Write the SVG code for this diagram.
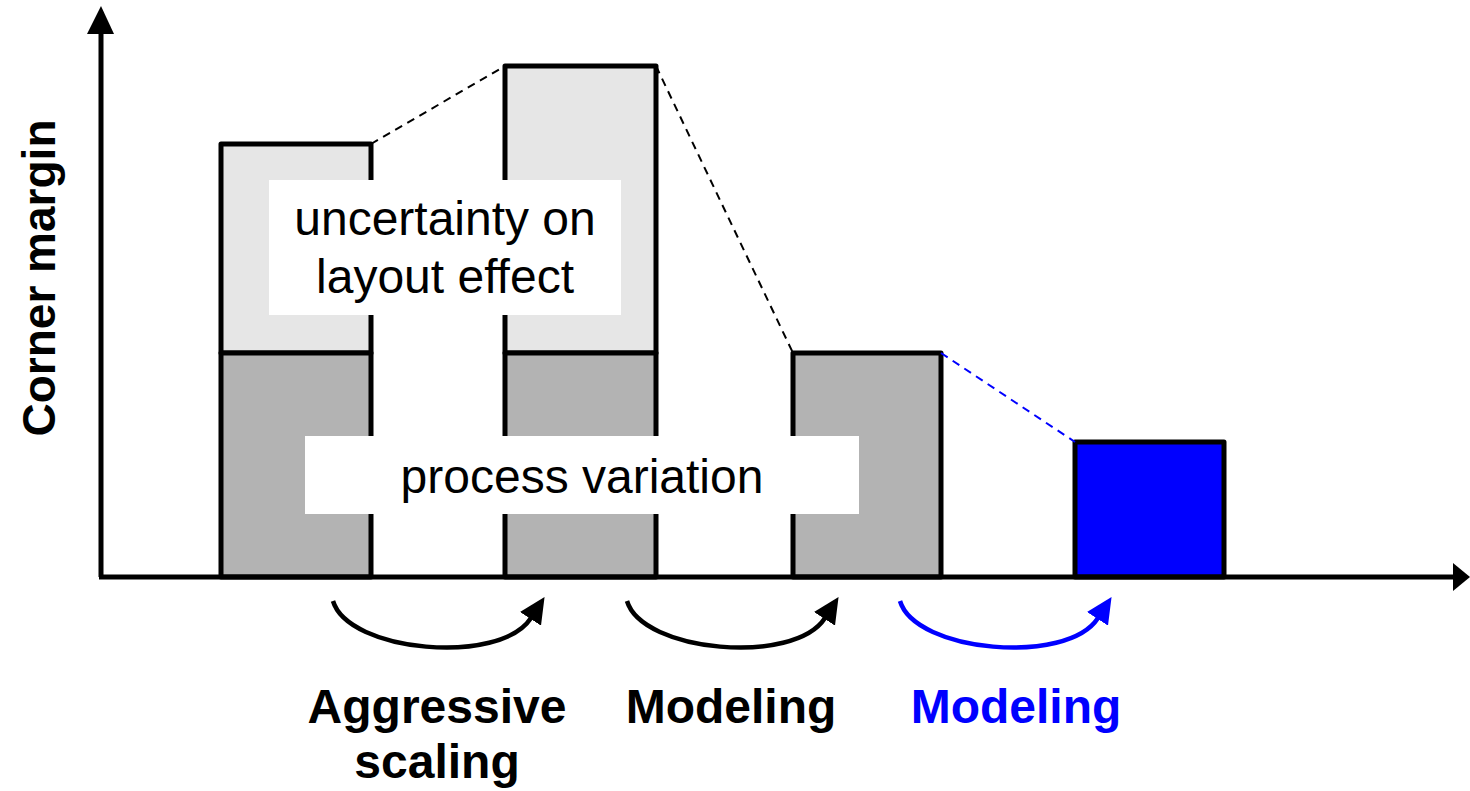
<svg xmlns="http://www.w3.org/2000/svg" width="1470" height="791" viewBox="0 0 1470 791">
<style>
.bar{stroke:#000;stroke-width:5;stroke-linejoin:round}
.light{fill:#e6e6e6}
.dark{fill:#b3b3b3}
.blue{fill:#0000ff}
.lbl{fill:#fff}
.t{font-family:"Liberation Sans",Arial,sans-serif;font-size:48px;text-anchor:middle;fill:#000}
.b{font-weight:bold}
.dash{fill:none;stroke-width:2;stroke-dasharray:8 6}
.curve{fill:none;stroke-width:4.5}
</style>
<defs>
<marker id="ahK" markerUnits="userSpaceOnUse" viewBox="0 0 26 25" refX="1" refY="12.5" markerWidth="26" markerHeight="25" orient="auto"><path d="M0,0 L26,12.5 L0,25 z" fill="#000"/></marker>
<marker id="ahB" markerUnits="userSpaceOnUse" viewBox="0 0 26 25" refX="1" refY="12.5" markerWidth="26" markerHeight="25" orient="auto"><path d="M0,0 L26,12.5 L0,25 z" fill="#0000ff"/></marker>
</defs>
<rect width="1470" height="791" fill="#fff"/>
<g id="bar1">
<rect class="bar light" x="221" y="144" width="150" height="209"/>
<rect class="bar dark" x="221" y="353" width="150" height="224"/>
</g>
<g id="bar2">
<rect class="bar light" x="505" y="66" width="151" height="287"/>
<rect class="bar dark" x="505" y="353" width="151" height="224"/>
</g>
<g id="bar3">
<rect class="bar dark" x="793" y="353" width="148" height="224"/>
</g>
<g id="bar4">
<rect class="bar blue" x="1075" y="442" width="149" height="135"/>
</g>
<g id="connectors">
<line class="dash" x1="371" y1="144" x2="505" y2="66" stroke="#000"/>
<line class="dash" x1="656" y1="66" x2="793" y2="353" stroke="#000"/>
<line class="dash" x1="941" y1="353" x2="1075" y2="442" stroke="#0000ff"/>
<path class="curve" stroke="#000" marker-end="url(#ahK)" d="M333,601 C348,652 500,666 531,618"/>
<path class="curve" stroke="#000" marker-end="url(#ahK)" d="M627,601 C642,652 794,666 825,618"/>
<path class="curve" stroke="#0000ff" marker-end="url(#ahB)" d="M900,601 C915,652 1067,666 1098,618"/>
</g>
<g id="axes">
<line x1="101" y1="577" x2="101" y2="30" stroke="#000" stroke-width="5"/>
<polygon points="101,6 87,34 114,34" fill="#000"/>
<line x1="99" y1="577" x2="1455" y2="577" stroke="#000" stroke-width="5"/>
<polygon points="1470,577 1453,563 1453,591" fill="#000"/>
</g>
<g id="label-uncertainty">
<rect class="lbl" x="269" y="180" width="352" height="135"/>
<text class="t" x="445" y="235">uncertainty on</text>
<text class="t" x="445" y="293">layout effect</text>
</g>
<g id="label-process">
<rect class="lbl" x="305" y="436" width="554" height="78"/>
<text class="t" x="582" y="493">process variation</text>
</g>
<g id="ylabel">
<text class="t b" transform="translate(55,278) rotate(-90)" x="0" y="0" style="font-size:46px">Corner margin</text>
</g>
<g id="step1">
<text class="t b" x="437" y="723">Aggressive</text>
<text class="t b" x="437" y="778">scaling</text>
</g>
<g id="step2">
<text class="t b" x="731" y="723">Modeling</text>
</g>
<g id="step3">
<text class="t b" x="1016" y="723" style="fill:#0000ff">Modeling</text>
</g>
</svg>
